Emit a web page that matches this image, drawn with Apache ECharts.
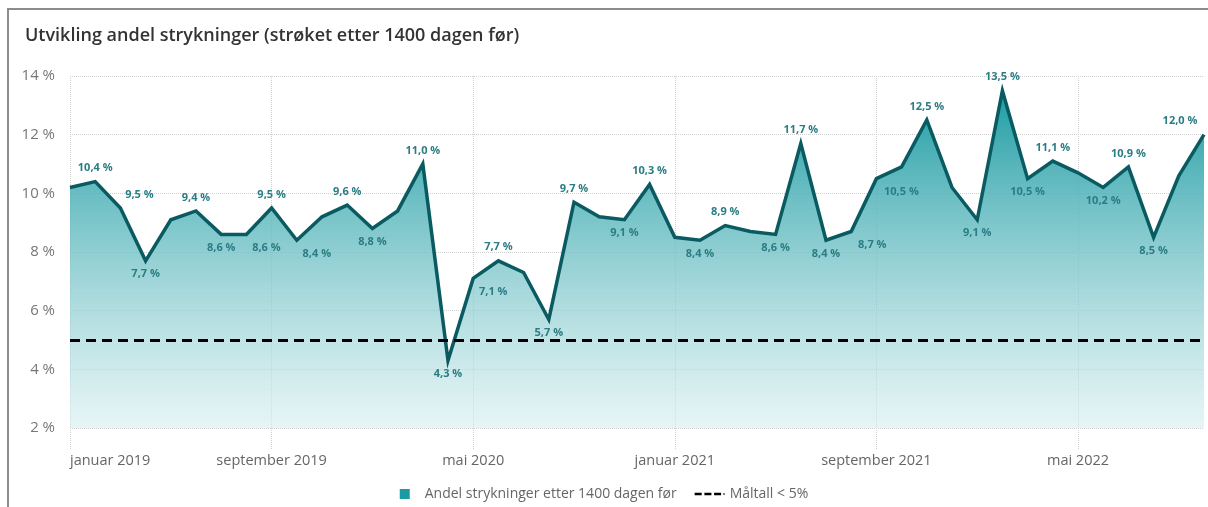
<!DOCTYPE html>
<html>
<head>
<meta charset="utf-8">
<script src="https://cdn.jsdelivr.net/npm/echarts@6/dist/echarts.min.js"></script>
<style>
  html, body { margin: 0; padding: 0; background: #fff; }
  #chart { width: 1208px; height: 507px; }
</style>
</head>
<body>
<div id="chart"></div>
<script>
  // måneder jan 2019 - okt 2022
  const monthNames = ['januar', 'februar', 'mars', 'april', 'mai', 'juni', 'juli', 'august', 'september', 'oktober', 'november', 'desember']
  const years = [2019, 2020, 2021, 2022]
  const monthCount = 46

  // andel strykninger (%)
  const andel = [
    10.2, 10.4, 9.5, 7.7, 9.1, 9.4, 8.6, 8.6, 9.5, 8.4, 9.2, 9.6,
    8.8, 9.4, 11.0, 4.3, 7.1, 7.7, 7.3, 5.7, 9.7, 9.2, 9.1, 10.3,
    8.5, 8.4, 8.9, 8.7, 8.6, 11.7, 8.4, 8.7, 10.5, 10.9, 12.5, 10.2,
    9.1, 13.5, 10.5, 11.1, 10.7, 10.2, 10.9, 8.5, 10.6, 12.0
  ]
  const maaltall = 5

  // hvilke punkter som har etikett, over / under
  const labelsTop = [1, 2, 5, 8, 11, 14, 17, 20, 23, 26, 29, 34, 37, 39, 42, 45]
  const labelsBottom = [3, 6, 7, 9, 12, 15, 16, 19, 22, 25, 28, 30, 31, 32, 36, 38, 41, 43]
  const labelShift = { 2: 19, 7: 20, 9: 20, 16: 20, 31: 21, 32: 25, 45: -24 }

  const yTicks = [2, 4, 6, 8, 10, 12, 14]

  const months = []
  for (let i = 0; i < monthCount; i++) {
    months.push(monthNames[i % 12] + ' ' + years[Math.floor(i / 12)])
  }

  const fmt = v => v.toFixed(1).replace('.', ',') + ' %'

  const seriesData = andel.map((v, i) => {
    let pos = null
    if (labelsTop.indexOf(i) > -1) pos = 'top'
    if (labelsBottom.indexOf(i) > -1) pos = 'bottom'
    if (!pos) return { value: v, label: { show: false } }
    return {
      value: v,
      label: {
        show: true,
        position: pos,
        offset: [labelShift[i] || 0, 0]
      }
    }
  })

  const font = "'Open Sans', 'Noto Sans', sans-serif"
  const chart = echarts.init(document.getElementById('chart'))
  const option = {
    animation: false,
    textStyle: { fontFamily: font },
    title: {
      text: 'Utvikling andel strykninger (strøket etter 1400 dagen før)',
      left: 20,
      top: 22,
      textStyle: {
        color: '#333',
        fontSize: 18,
        fontWeight: 600,
        fontFamily: font
      }
    },
    graphic: [{
      type: 'polyline',
      shape: { points: [[8, 507], [8, 9], [1208, 9]] },
      style: { stroke: '#8c8c8c', lineWidth: 2, fill: null },
      silent: true
    }],
    legend: {
      bottom: 1,
      left: 'center',
      itemGap: 18,
      itemWidth: 30,
      itemHeight: 10,
      textStyle: { color: '#666', fontSize: 14, fontFamily: font },
      data: [
        {
          name: 'Andel strykninger etter 1400 dagen før',
          icon: 'path://M0,0h10v10h-10z',
          itemStyle: { color: '#1b9aa2' }
        },
        {
          name: 'Måltall < 5%',
          icon: 'path://M0,4h8v2.6h-8z M11,4h8v2.6h-8z M22,4h8v2.6h-8z M32.5,4.5h1.5v1.6h-1.5z',
          itemStyle: { color: '#000' }
        }
      ]
    },
    grid: {
      left: 70,
      right: 4,
      top: 76,
      bottom: 79
    },
    xAxis: {
      type: 'category',
      data: months,
      boundaryGap: false,
      axisLine: { show: false },
      axisTick: {
        show: true,
        interval: 7,
        length: 22,
        lineStyle: { color: '#cfcfcf', type: 'dotted' }
      },
      axisLabel: {
        interval: 7,
        margin: 25,
        color: '#666',
        fontSize: 14.5,
        alignMinLabel: 'left'
      },
      splitLine: {
        show: true,
        interval: 7,
        lineStyle: { color: '#cfcfcf', type: 'dotted' }
      }
    },
    yAxis: {
      type: 'value',
      min: yTicks[0],
      max: yTicks[yTicks.length - 1],
      interval: 2,
      axisLine: { show: false },
      axisTick: { show: false },
      axisLabel: {
        color: '#777',
        fontSize: 15,
        margin: 15,
        formatter: v => v + ' %'
      },
      splitLine: {
        lineStyle: { color: '#cfcfcf', type: 'dotted' }
      }
    },
    series: [{
      name: 'Andel strykninger etter 1400 dagen før',
      type: 'line',
      data: seriesData,
      symbol: 'circle',
      symbolSize: 0,
      showSymbol: true,
      lineStyle: { color: '#0a5b61', width: 3.5, join: 'miter' },
      itemStyle: { color: '#1b9aa2' },
      label: {
        show: true,
        distance: 8,
        color: '#2b7d84',
        fontSize: 11,
        fontWeight: 'bold',
        fontFamily: font,
        formatter: p => fmt(p.value)
      },
      areaStyle: {
        origin: 'start',
        opacity: 1,
        color: new echarts.graphic.LinearGradient(0, 0, 0, 1, [
          { offset: 0, color: 'rgba(20,152,160,0.96)' },
          { offset: 1, color: 'rgba(215,238,240,0.6)' }
        ])
      },
      z: 2
    }, {
      name: 'Måltall < 5%',
      type: 'line',
      data: [],
      symbol: 'none',
      itemStyle: { color: '#000' },
      lineStyle: { color: '#000', width: 3, type: [10, 6] },
      markLine: {
        silent: true,
        symbol: 'none',
        label: { show: false },
        lineStyle: { color: '#000', width: 3, type: [10, 6] },
        data: [{ yAxis: maaltall }]
      },
      z: 3
    }]
  }
  chart.setOption(option)
</script>
</body>
</html>
